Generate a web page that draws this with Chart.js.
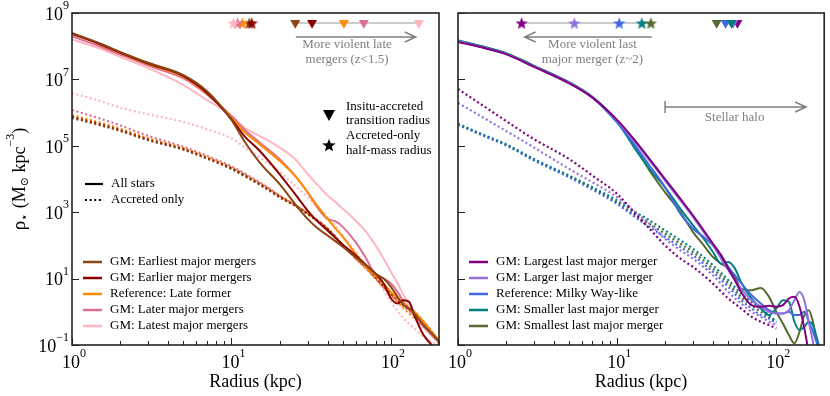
<!DOCTYPE html>
<html>
<head>
<meta charset="utf-8">
<script src="https://cdn.jsdelivr.net/npm/chart.js@4.4.1/dist/chart.umd.min.js"></script>
<style>
    body { margin: 0; background: #fff; width: 830px; height: 396px; overflow: hidden; position: relative; }
    #wrapLeft { position: absolute; left: 0; top: 0; width: 448px; height: 396px; }
    #wrapRight { position: absolute; left: 448px; top: 0; width: 382px; height: 396px; }
</style>
</head>
<body>
<div id="wrapLeft"><canvas id="leftChart"></canvas></div>
<div id="wrapRight"><canvas id="rightChart"></canvas></div>
<script>
/* ---- Data: log10 of stellar density (Msun kpc^-3) ---- */

/* Left panel, all stars */
const leftAllRadii = [1, 1.5, 2, 3, 5, 7, 10, 12, 15, 20, 25, 30, 35, 40, 45, 50, 60, 70, 80, 90, 100, 110, 120, 130, 140, 160, 180, 200];
const leftAllEarliest = [8.40, 8.08, 7.83, 7.50, 7.13, 6.65, 5.78, 5.15, 4.50, 3.85, 3.25, 2.80, 2.50, 2.30, 2.12, 1.95, 1.65, 1.40, 1.15, 1.00, 0.75, 0.45, 0.20, 0.10, -0.05, -0.40, -0.65, -0.90];
const leftAllEarlier = [8.38, 8.06, 7.81, 7.48, 7.10, 6.60, 5.80, 5.30, 4.85, 4.15, 3.55, 3.05, 2.70, 2.45, 2.22, 2.02, 1.70, 1.40, 1.15, 0.85, 0.40, 0.25, 0.35, 0.30, -0.10, -0.70, -1.00, -1.30];
const leftAllReference = [8.38, 8.06, 7.80, 7.46, 7.08, 6.58, 5.85, 5.42, 5.05, 4.55, 4.10, 3.60, 3.15, 2.80, 2.50, 2.25, 1.75, 1.35, 1.10, 0.85, 0.60, 0.40, 0.25, 0.10, 0.00, -0.30, -0.60, -0.85];
const leftAllLater = [8.30, 7.99, 7.75, 7.42, 7.03, 6.55, 5.90, 5.50, 5.10, 4.60, 4.10, 3.60, 3.10, 2.80, 2.72, 2.55, 2.10, 1.60, 1.10, 1.00, 0.85, 0.60, 0.30, 0.05, -0.10, -0.45, -0.70, -0.90];
const leftAllLatest = [8.20, 7.93, 7.68, 7.34, 6.83, 6.38, 5.90, 5.55, 5.30, 4.95, 4.60, 4.15, 3.80, 3.50, 3.30, 3.10, 2.75, 2.40, 2.00, 1.60, 1.20, 0.85, 0.50, 0.20, -0.05, -0.45, -0.70, -0.90];

/* Left panel, accreted only */
const leftAccRadii = [1, 1.5, 2, 3, 5, 7, 10, 13, 16, 20, 25, 30, 40, 50, 60, 70, 80, 100, 120, 140, 160, 180, 200];
const leftAccEarliest = [5.84, 5.62, 5.45, 5.17, 4.88, 4.62, 4.30, 4.00, 3.75, 3.45, 3.20, 2.95, 2.50, 2.00, 1.65, 1.35, 1.05, 0.55, 0.20, -0.05, -0.30, -0.60, -0.90];
const leftAccEarlier = [5.87, 5.65, 5.47, 5.19, 4.90, 4.63, 4.32, 4.02, 3.77, 3.47, 3.20, 2.95, 2.50, 2.00, 1.65, 1.35, 1.05, 0.55, 0.25, 0.00, -0.30, -0.60, -0.90];
const leftAccReference = [5.93, 5.70, 5.52, 5.23, 4.93, 4.66, 4.35, 4.05, 3.80, 3.50, 3.22, 2.97, 2.50, 2.00, 1.60, 1.30, 1.00, 0.50, 0.10, -0.20, -0.45, -0.70, -0.95];
const leftAccLater = [6.08, 5.82, 5.62, 5.30, 4.97, 4.70, 4.38, 4.08, 3.82, 3.50, 3.22, 2.97, 2.50, 2.00, 1.60, 1.30, 1.00, 0.50, 0.15, -0.10, -0.40, -0.70, -0.95];
const leftAccLatest = [6.59, 6.35, 6.15, 5.95, 5.72, 5.50, 5.22, 4.85, 4.55, 4.22, 3.80, 3.45, 2.85, 2.30, 1.80, 1.40, 1.05, 0.30, -0.20, -0.50, -0.75, -0.90, -1.00];

/* Right panel, all stars */
const rightAllRadii = [1, 1.5, 2, 3, 5, 7, 10, 13, 16, 20, 25, 30, 35, 40, 45, 50, 55, 60, 70, 80, 90, 100, 110, 120, 130, 140, 150, 160, 170, 180, 190, 200];
const rightAllLargest = [8.13, 7.93, 7.76, 7.38, 6.88, 6.45, 5.78, 5.15, 4.60, 4.00, 3.40, 2.90, 2.45, 2.05, 1.70, 1.30, 0.95, 0.60, 0.20, 0.15, 0.18, 0.15, 0.20, 0.40, 0.45, 0.15, -0.50, -1.20, -1.60, null, null, null];
const rightAllLarger = [8.15, 7.94, 7.77, 7.39, 6.89, 6.46, 5.76, 5.10, 4.55, 3.95, 3.35, 2.85, 2.40, 2.00, 1.60, 1.25, 0.95, 0.70, 0.35, 0.15, 0.00, -0.05, -0.05, 0.05, 0.35, 0.60, 0.35, -0.30, -0.90, -1.40, null, null];
const rightAllReference = [8.15, 7.94, 7.77, 7.39, 6.89, 6.45, 5.70, 5.00, 4.40, 3.75, 2.95, 2.50, 2.25, 2.00, 1.70, 1.35, 1.10, 0.87, 0.50, 0.25, 0.05, -0.05, -0.05, 0.00, -0.10, -0.10, 0.00, -0.30, -0.60, -0.95, -1.30, null];
const rightAllSmaller = [8.17, 7.96, 7.79, 7.41, 6.91, 6.47, 5.72, 4.90, 4.30, 3.75, 3.10, 2.60, 2.20, 1.80, 1.45, 1.50, 1.30, 0.90, 0.40, 0.10, -0.10, 0.10, 0.35, 0.30, -0.30, -0.55, -0.45, -0.30, -0.40, -0.80, -1.20, null];
const rightAllSmallest = [8.17, 7.96, 7.79, 7.41, 6.91, 6.47, 5.72, 4.95, 4.25, 3.60, 3.00, 2.40, 2.00, 1.65, 1.45, 1.30, 1.05, 0.70, 0.65, 0.72, 0.45, 0.00, -0.35, -0.70, -0.95, -0.60, -0.10, 0.05, -0.30, -0.90, -1.30, null];

/* Right panel, accreted only */
const rightAccRadii = [1, 1.5, 2, 3, 5, 7, 10, 13, 16, 20, 25, 30, 40, 50, 60, 70, 80, 90, 100];
const rightAccLargest = [6.71, 6.15, 5.75, 5.20, 4.60, 4.10, 3.55, 2.95, 2.50, 2.00, 1.60, 1.35, 0.85, 0.40, 0.10, -0.15, -0.30, -0.40, -0.50];
const rightAccLarger = [6.29, 5.80, 5.45, 4.95, 4.30, 3.90, 3.45, 3.00, 2.65, 2.20, 1.85, 1.60, 1.10, 0.60, 0.25, 0.00, -0.15, -0.30, -0.40];
const rightAccReference = [5.63, 5.27, 5.02, 4.56, 4.05, 3.68, 3.25, 2.85, 2.55, 2.25, 1.95, 1.70, 1.20, 0.75, 0.35, 0.10, -0.10, -0.20, -0.35];
const rightAccSmaller = [5.66, 5.30, 5.05, 4.60, 4.10, 3.75, 3.35, 3.00, 2.75, 2.45, 2.15, 1.90, 1.40, 0.95, 0.55, 0.30, 0.10, -0.10, -0.30];
const rightAccSmallest = [5.65, 5.28, 5.03, 4.58, 4.08, 3.72, 3.30, 2.90, 2.65, 2.35, 2.05, 1.80, 1.30, 0.85, 0.45, 0.20, 0.00, -0.15, -0.30];

/* Marker radii (kpc): triangles = in-situ/accreted transition, stars = accreted half-mass */
const leftTriangleRadii = [25.1, 32, 50.7, 67.6, 149.7];
const leftStarRadii = [12.9, 13.4, 11.7, 10.9, 10.3];
const rightTriangleRadii = [57, 53.5, 48, 52.3, 42.2];
const rightStarRadii = [2.51, 5.38, 10.3, 14.3, 16.3];
const markerDensity = 5e8;

/* Labels */
const leftLabels = ["GM: Earliest major mergers", "GM: Earlier major mergers", "Reference: Late former", "GM: Later major mergers", "GM: Latest major mergers"];
const rightLabels = ["GM: Largest last major merger", "GM: Larger last major merger", "Reference: Milky Way-like", "GM: Smaller last major merger", "GM: Smallest last major merger"];
const leftColors = ["#8B4513", "#8B0000", "#FF8C00", "#DB7093", "#FFB6C1"];
const rightColors = ["#800080", "#9370DB", "#4169E1", "#008080", "#556B2F"];
const xTickValues = [1, 10, 100];
const yTickValues = [0.1, 10, 1e3, 1e5, 1e7, 1e9];

const SERIF = "'Liberation Serif', 'DejaVu Serif', serif";

/* ---- helpers ---- */
function starImage(color, size) {
    const c = document.createElement("canvas");
    c.width = size; c.height = size;
    const g = c.getContext("2d");
    const cx = size / 2, cy = size / 2 + size * 0.05, R = size / 2, r = R * 0.42;
    g.beginPath();
    for (let i = 0; i < 10; i++) {
        const rad = i % 2 === 0 ? R : r;
        const a = -Math.PI / 2 + i * Math.PI / 5;
        g.lineTo(cx + rad * Math.cos(a), cy + rad * Math.sin(a));
    }
    g.closePath();
    g.fillStyle = color;
    g.fill();
    return c;
}

function lineSet(radii, logs, color, dotted) {
    const pts = [];
    radii.forEach((r, i) => {
        if (logs[i] !== null) pts.push({ x: r, y: Math.pow(10, logs[i]) });
    });
    return {
        data: pts,
        borderColor: color,
        borderWidth: dotted ? 2.2 : 2,
        borderDash: dotted ? [2, 2.6] : [],
        borderCapStyle: "butt",
        pointRadius: 0,
        fill: false,
        cubicInterpolationMode: "monotone",
        clip: 0
    };
}

function markerSet(radii, colors, kind) {
    return {
        data: radii.map(r => ({ x: r, y: markerDensity })),
        showLine: false,
        pointStyle: kind === "star" ? colors.map(c => starImage(c, 13)) : "triangle",
        pointRotation: kind === "star" ? 0 : 180,
        pointRadius: 5.8,
        pointBackgroundColor: colors,
        pointBorderColor: colors,
        pointBorderWidth: 0
    };
}

function drawPow(ctx, exp, x, y, align) {
    ctx.font = "18px " + SERIF;
    const wb = ctx.measureText("10").width;
    ctx.font = "12px " + SERIF;
    const we = ctx.measureText(exp).width;
    let x0 = x;
    if (align === "center") x0 = x - (wb + we) / 2;
    if (align === "right") x0 = x - (wb + we);
    ctx.fillStyle = "#000";
    ctx.textAlign = "left";
    ctx.textBaseline = "middle";
    ctx.font = "18px " + SERIF;
    ctx.fillText("10", x0, y);
    ctx.font = "12px " + SERIF;
    ctx.fillText(exp, x0 + wb, y - 9);
}

function expText(v) {
    const e = Math.round(Math.log10(v));
    return e < 0 ? "\u2212" + (-e) : String(e);
}

function arrow(ctx, x1, x2, y, color) {
    ctx.strokeStyle = color;
    ctx.lineWidth = 1.5;
    ctx.beginPath();
    ctx.moveTo(x1, y); ctx.lineTo(x2, y);
    const d = x2 > x1 ? -1 : 1;
    ctx.moveTo(x2 + d * 11, y - 5); ctx.lineTo(x2, y); ctx.lineTo(x2 + d * 11, y + 5);
    ctx.stroke();
}

/* frame, ticks, labels and annotations */
const decorPlugin = {
    id: "decor",
    beforeDatasetsDraw(chart, args, opts) {
        const ctx = chart.ctx, xs = chart.scales.x, ys = chart.scales.y;
        ctx.save();
        ctx.strokeStyle = "#bbb";
        ctx.lineWidth = 1.5;
        opts.connectors.forEach(group => {
            const y = ys.getPixelForValue(markerDensity);
            ctx.beginPath();
            ctx.moveTo(xs.getPixelForValue(Math.min(...group)), y);
            ctx.lineTo(xs.getPixelForValue(Math.max(...group)), y);
            ctx.stroke();
        });
        ctx.restore();
    },
    afterDraw(chart, args, opts) {
        const ctx = chart.ctx, a = chart.chartArea;
        const xs = chart.scales.x, ys = chart.scales.y;
        ctx.save();

        // ticks (inward)
        ctx.strokeStyle = "#222";
        ctx.lineWidth = 1;
        ctx.beginPath();
        for (let dec = 1; dec <= 100; dec *= 10) {
            for (let m = 1; m <= 9; m++) {
                const v = dec * m;
                if (v > 200) break;
                const px = Math.round(xs.getPixelForValue(v)) + 0.5;
                const len = m === 1 ? 7 : 4;
                ctx.moveTo(px, a.bottom); ctx.lineTo(px, a.bottom - len);
            }
        }
        yTickValues.forEach(v => {
            const py = Math.round(ys.getPixelForValue(v)) + 0.5;
            ctx.moveTo(a.left, py); ctx.lineTo(a.left + 7, py);
        });
        ctx.stroke();

        // frame
        ctx.strokeStyle = "#222";
        ctx.lineWidth = 1.6;
        ctx.strokeRect(a.left, a.top, a.right - a.left, a.bottom - a.top);

        // tick labels
        xTickValues.forEach(v => drawPow(ctx, expText(v), xs.getPixelForValue(v) + 2, a.bottom + 18, "center"));
        if (opts.yLabels) {
            yTickValues.forEach(v => drawPow(ctx, expText(v), a.left - 3, ys.getPixelForValue(v) + 2, "right"));
        }

        // axis titles
        ctx.fillStyle = "#000";
        ctx.font = "18px " + SERIF;
        ctx.textAlign = "center";
        ctx.textBaseline = "middle";
        ctx.fillText("Radius (kpc)", (a.left + a.right) / 2, 382);

        if (opts.yLabels) {
            const parts = [
                ["\u03C1", 19, 0], ["\u22C6", 12, 5], [" (M", 18, 0], ["\u2299", 11, 5],
                [" kpc", 18, 0], ["\u22123", 12, -9], [")", 18, 0]
            ];
            let total = 0;
            parts.forEach(p => { ctx.font = p[1] + "px " + SERIF; total += ctx.measureText(p[0]).width; });
            ctx.translate(20, (a.top + a.bottom) / 2);
            ctx.rotate(-Math.PI / 2);
            ctx.textAlign = "left";
            let x = -total / 2;
            parts.forEach(p => {
                ctx.font = p[1] + "px " + SERIF;
                ctx.fillText(p[0], x, p[2]);
                x += ctx.measureText(p[0]).width;
            });
            ctx.setTransform(1, 0, 0, 1, 0, 0);
        }

        // gray annotations
        const gray = "#808080";
        opts.arrows.forEach(ar => {
            const x1 = xs.getPixelForValue(ar.from), x2 = xs.getPixelForValue(ar.to);
            arrow(ctx, x1, x2, ar.y, gray);
            if (ar.bar) {
                ctx.beginPath();
                ctx.moveTo(x1, ar.y - 6); ctx.lineTo(x1, ar.y + 6);
                ctx.stroke();
            }
            ctx.fillStyle = gray;
            ctx.font = "13px " + SERIF;
            ctx.textAlign = "center";
            ctx.textBaseline = "middle";
            const tx = xs.getPixelForValue(ar.textAt);
            ar.text.forEach((t, i) => ctx.fillText(t, tx, ar.textY + i * 15));
        });

        // color legend
        ctx.font = "13px " + SERIF;
        ctx.textAlign = "left";
        ctx.textBaseline = "middle";
        opts.legend.labels.forEach((lab, i) => {
            const y = opts.legend.y + i * 16;
            ctx.strokeStyle = opts.legend.colors[i];
            ctx.lineWidth = 2.5;
            ctx.setLineDash([]);
            ctx.beginPath();
            ctx.moveTo(a.left + opts.legend.dx, y); ctx.lineTo(a.left + opts.legend.dx + 19, y);
            ctx.stroke();
            ctx.fillStyle = "#000";
            ctx.fillText(lab, a.left + opts.legend.dx + 27, y);
        });

        // style legend (left panel only)
        if (opts.styleLegend) {
            [["All stars", []], ["Accreted only", [2, 2.6]]].forEach((s, i) => {
                const y = 184 + i * 16;
                ctx.strokeStyle = "#000";
                ctx.lineWidth = 2.2;
                ctx.setLineDash(s[1]);
                ctx.beginPath();
                ctx.moveTo(85, y); ctx.lineTo(103, y);
                ctx.stroke();
                ctx.fillStyle = "#000";
                ctx.fillText(s[0], 111, y);
            });
            ctx.setLineDash([]);
            // marker legend
            ctx.fillStyle = "#000";
            const tx = 329;
            ctx.beginPath();
            ctx.moveTo(tx - 6, 110); ctx.lineTo(tx + 6, 110); ctx.lineTo(tx, 121);
            ctx.closePath();
            ctx.fill();
            ctx.drawImage(starImage("#000", 14), tx - 7, 138);
            ctx.fillText("Insitu-accreted", 346, 107);
            ctx.fillText("transition radius", 346, 121);
            ctx.fillText("Accreted-only", 346, 136);
            ctx.fillText("half-mass radius", 346, 151);
        }
        ctx.restore();
    }
};

function makeChart(id, datasets, padding, opts) {
    return new Chart(document.getElementById(id), {
        type: "line",
        data: { datasets: datasets },
        plugins: [decorPlugin],
        options: {
            responsive: true,
            maintainAspectRatio: false,
            animation: false,
            devicePixelRatio: 1,
            layout: { padding: padding },
            scales: {
                x: { type: "logarithmic", min: 1, max: 200, display: false },
                y: { type: "logarithmic", min: 0.1, max: 1e9, display: false }
            },
            plugins: { legend: { display: false }, tooltip: { enabled: false }, decor: opts }
        }
    });
}

/* ---- Left panel ---- */
const leftAll = [leftAllEarliest, leftAllEarlier, leftAllReference, leftAllLater, leftAllLatest];
const leftAcc = [leftAccEarliest, leftAccEarlier, leftAccReference, leftAccLater, leftAccLatest];
const leftSets = [markerSet(leftStarRadii, leftColors, "star"), markerSet(leftTriangleRadii, leftColors, "triangle")];
leftAll.forEach((s, i) => leftSets.push(lineSet(leftAllRadii, s, leftColors[i], false)));
leftAcc.forEach((s, i) => leftSets.push(lineSet(leftAccRadii, s, leftColors[i], true)));

makeChart("leftChart", leftSets, { left: 72, right: 9, top: 13, bottom: 51 }, {
    yLabels: true,
    styleLegend: true,
    connectors: [leftTriangleRadii],
    arrows: [{ from: 25.3, to: 143, y: 37, textAt: 53, textY: 45, text: ["More violent late", "mergers (z<1.5)"] }],
    legend: { labels: leftLabels, colors: leftColors, y: 262, dx: 11 }
});

/* ---- Right panel ---- */
const rightAll = [rightAllLargest, rightAllLarger, rightAllReference, rightAllSmaller, rightAllSmallest];
const rightAcc = [rightAccLargest, rightAccLarger, rightAccReference, rightAccSmaller, rightAccSmallest];
const rightSets = [markerSet(rightStarRadii, rightColors, "star"), markerSet(rightTriangleRadii, rightColors, "triangle")];
rightAll.forEach((s, i) => rightSets.push(lineSet(rightAllRadii, s, rightColors[i], false)));
rightAcc.forEach((s, i) => rightSets.push(lineSet(rightAccRadii, s, rightColors[i], true)));

makeChart("rightChart", rightSets, { left: 10, right: 5, top: 13, bottom: 51 }, {
    yLabels: false,
    styleLegend: false,
    connectors: [rightStarRadii],
    arrows: [
        { from: 16.5, to: 2.62, y: 37, textAt: 7.0, textY: 45, text: ["More violent last", "major merger (z~2)"] },
        { from: 20, to: 154, y: 107, bar: true, textAt: 54.7, textY: 118, text: ["Stellar halo"] }
    ],
    legend: { labels: rightLabels, colors: rightColors, y: 262, dx: 11 }
});
</script>
</body>
</html>
